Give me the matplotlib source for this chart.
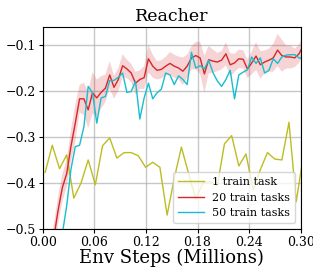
import numpy as np
import matplotlib
matplotlib.use("Agg")
import matplotlib.pyplot as plt

plt.rcParams['font.family'] = 'DejaVu Serif'

# x positions (millions of env steps)
steps_1 = [0.003, 0.0113, 0.0197, 0.028, 0.0363, 0.0447, 0.053, 0.0613, 0.0697,
           0.078, 0.0863, 0.0947, 0.103, 0.1113, 0.1197, 0.128, 0.1363, 0.1447,
           0.153, 0.1613, 0.1697, 0.178, 0.1863, 0.1947, 0.203, 0.2113, 0.2197,
           0.228, 0.2363, 0.2447, 0.253, 0.2613, 0.2697, 0.278, 0.2863, 0.2947,
           0.303]
ret_1 = [-0.377, -0.318, -0.369, -0.339, -0.433, -0.400, -0.350, -0.404, -0.319,
         -0.302, -0.346, -0.334, -0.334, -0.341, -0.366, -0.355, -0.366, -0.470,
         -0.390, -0.322, -0.380, -0.435, -0.400, -0.397, -0.406, -0.315, -0.297,
         -0.363, -0.337, -0.415, -0.371, -0.334, -0.348, -0.350, -0.268, -0.441,
         -0.340]

steps_n = [0.003, 0.008, 0.013, 0.018, 0.023, 0.028, 0.033, 0.038, 0.043, 0.048,
           0.053, 0.058, 0.063, 0.068, 0.073, 0.078, 0.083, 0.088, 0.093, 0.098,
           0.103, 0.108, 0.113, 0.118, 0.123, 0.128, 0.133, 0.138, 0.143, 0.148,
           0.153, 0.158, 0.163, 0.168, 0.173, 0.178, 0.183, 0.188, 0.193, 0.198,
           0.203, 0.208, 0.213, 0.218, 0.223, 0.228, 0.233, 0.238, 0.243, 0.248,
           0.253, 0.258, 0.263, 0.268, 0.273, 0.278, 0.283, 0.288, 0.293, 0.298,
           0.303]
ret_20 = [-0.65, -0.60, -0.52, -0.46, -0.41, -0.38, -0.32, -0.27, -0.217, -0.217,
          -0.241, -0.204, -0.215, -0.203, -0.194, -0.165, -0.192, -0.175, -0.145, -0.152,
          -0.161, -0.183, -0.175, -0.171, -0.130, -0.146, -0.155, -0.153, -0.146, -0.140,
          -0.146, -0.150, -0.157, -0.146, -0.128, -0.123, -0.128, -0.163, -0.132, -0.135,
          -0.137, -0.133, -0.119, -0.143, -0.139, -0.130, -0.131, -0.152, -0.139, -0.124,
          -0.143, -0.137, -0.133, -0.128, -0.111, -0.123, -0.126, -0.126, -0.128, -0.119,
          -0.100]
std_20 = [0.03, 0.03, 0.03, 0.03, 0.03, 0.03, 0.035, 0.04, 0.03, 0.035,
          0.04, 0.045, 0.04, 0.035, 0.03, 0.03, 0.025, 0.025, 0.025, 0.02,
          0.02, 0.025, 0.02, 0.025, 0.03, 0.025, 0.02, 0.02, 0.02, 0.025,
          0.025, 0.025, 0.03, 0.025, 0.025, 0.03, 0.035, 0.04, 0.03, 0.025,
          0.02, 0.02, 0.025, 0.025, 0.02, 0.02, 0.02, 0.02, 0.025, 0.03,
          0.03, 0.025, 0.025, 0.03, 0.035, 0.035, 0.025, 0.025, 0.02, 0.02,
          0.02]
ret_50 = [-0.80, -0.74, -0.68, -0.60, -0.51, -0.45, -0.37, -0.321, -0.318, -0.278,
          -0.190, -0.204, -0.270, -0.215, -0.212, -0.177, -0.177, -0.170, -0.161, -0.203,
          -0.201, -0.179, -0.261, -0.215, -0.183, -0.217, -0.204, -0.196, -0.161, -0.165,
          -0.186, -0.167, -0.175, -0.186, -0.116, -0.150, -0.145, -0.152, -0.133, -0.160,
          -0.178, -0.190, -0.175, -0.155, -0.217, -0.165, -0.159, -0.154, -0.126, -0.140,
          -0.128, -0.161, -0.155, -0.130, -0.140, -0.126, -0.122, -0.121, -0.121, -0.128,
          -0.130]

x_ticks = [0.00, 0.06, 0.12, 0.18, 0.24, 0.30]
y_ticks = [-0.5, -0.4, -0.3, -0.2, -0.1]

fig = plt.figure(figsize=(3.13, 2.69), dpi=100)
ax = fig.add_axes([0.136, 0.149, 0.825, 0.752])

r20 = np.array(ret_20)
s20 = np.array(std_20)
ax.fill_between(steps_n, r20 - s20, r20 + s20, color='#d62728', alpha=0.2, lw=0)
ax.plot(steps_1, ret_1, color='#bcbd22', lw=1.0, label='1 train task')
ax.plot(steps_n, ret_20, color='#d62728', lw=1.0, label='20 train tasks')
ax.plot(steps_n, ret_50, color='#17becf', lw=1.0, label='50 train tasks')

ax.set_xlim(0, 0.30)
ax.set_ylim(-0.5, -0.06)
ax.set_xticks(x_ticks)
ax.set_xticklabels([f"{t:.2f}" for t in x_ticks])
ax.set_yticks(y_ticks)
ax.set_yticklabels([f"\u2212{abs(t):.1f}" for t in y_ticks])
ax.tick_params(labelsize=9, length=3, pad=2)
ax.grid(True, color='#b0b0b0', lw=1.0, alpha=0.7)
ax.set_axisbelow(True)

ax.set_title('Reacher', fontsize=12.5, pad=4)
ax.set_xlabel('Env Steps (Millions)', fontsize=13, labelpad=0)
ax.legend(loc='lower right', fontsize=8, handlelength=2.3, borderpad=0.45,
          labelspacing=0.5, handletextpad=0.75, borderaxespad=0.5)

fig.savefig('out.png', dpi=100)
